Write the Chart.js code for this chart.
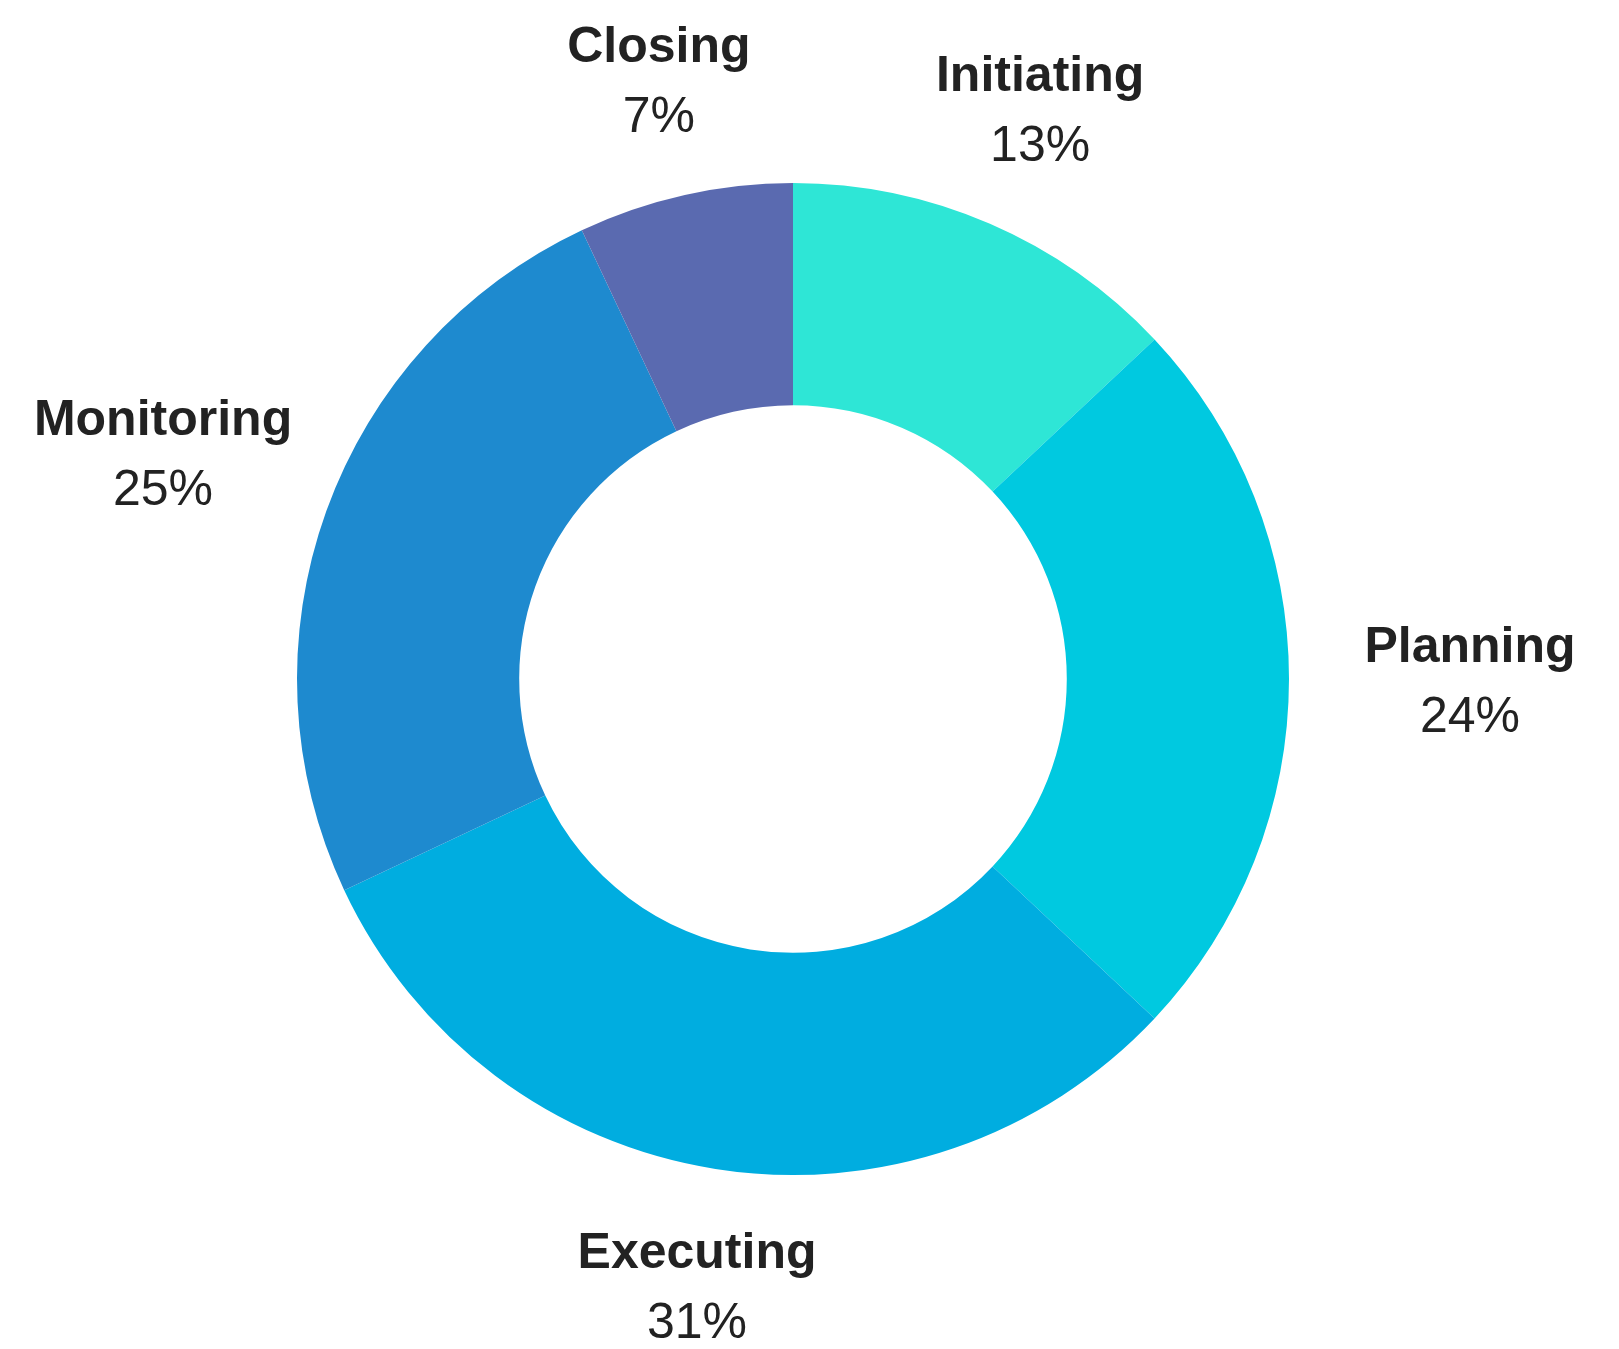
<!DOCTYPE html>
<html>
<head>
<meta charset="utf-8">
<title>Project phases</title>
<script src="https://cdn.jsdelivr.net/npm/chart.js@4.4.1/dist/chart.umd.min.js"></script>
<style>
  html, body { margin: 0; padding: 0; background: #fff; }
  #wrap { width: 1619px; height: 1349px; }
</style>
</head>
<body>
<div id="wrap"><canvas id="phaseChart" width="1619" height="1349"></canvas></div>
<script>
// Data
const phases = ['Initiating', 'Planning', 'Executing', 'Monitoring', 'Closing'];
const shares = [13, 24, 31, 25, 7];
const phaseColors = ['#2ee6d6', '#00c9e0', '#00ade0', '#1e8acf', '#5a6ab0'];

// Draws "Name / nn%" outside each slice
const outsideLabels = {
    id: 'outsideLabels',
    afterDatasetsDraw(chart) {
        const ctx = chart.ctx;
        const meta = chart.getDatasetMeta(0);
        const values = chart.data.datasets[0].data;
        const total = values.reduce((s, v) => s + v, 0);
        ctx.save();
        ctx.fillStyle = '#222';
        ctx.textAlign = 'center';
        ctx.textBaseline = 'middle';
        meta.data.forEach((arc, i) => {
            const p = arc.getProps(['x', 'y', 'startAngle', 'endAngle', 'outerRadius'], true);
            const mid = (p.startAngle + p.endAngle) / 2;
            const vx = Math.cos(mid), vy = Math.sin(mid);
            // wider labels sit a bit further out on the sides
            const dist = p.outerRadius + 116 + 65 * vx * vx;
            const cx = p.x + vx * dist;
            const cy = p.y + vy * dist + 4;
            ctx.font = 'bold 50px "Liberation Sans", Arial, sans-serif';
            ctx.fillText(chart.data.labels[i], cx, cy - 35);
            ctx.font = '50px "Liberation Sans", Arial, sans-serif';
            ctx.fillText(Math.round(values[i] / total * 100) + '%', cx, cy + 35);
        });
        ctx.restore();
    }
};

new Chart(document.getElementById('phaseChart'), {
    type: 'doughnut',
    data: {
        labels: phases,
        datasets: [{
            data: shares,
            backgroundColor: phaseColors,
            borderWidth: 0,
            hoverOffset: 0
        }]
    },
    options: {
        responsive: false,
        animation: false,
        radius: 496,
        cutout: '55.2%',
        layout: { padding: { left: 0, right: 33, top: 9, bottom: 0 } },
        plugins: {
            legend: { display: false },
            tooltip: { enabled: false }
        }
    },
    plugins: [outsideLabels]
});
</script>
</body>
</html>
